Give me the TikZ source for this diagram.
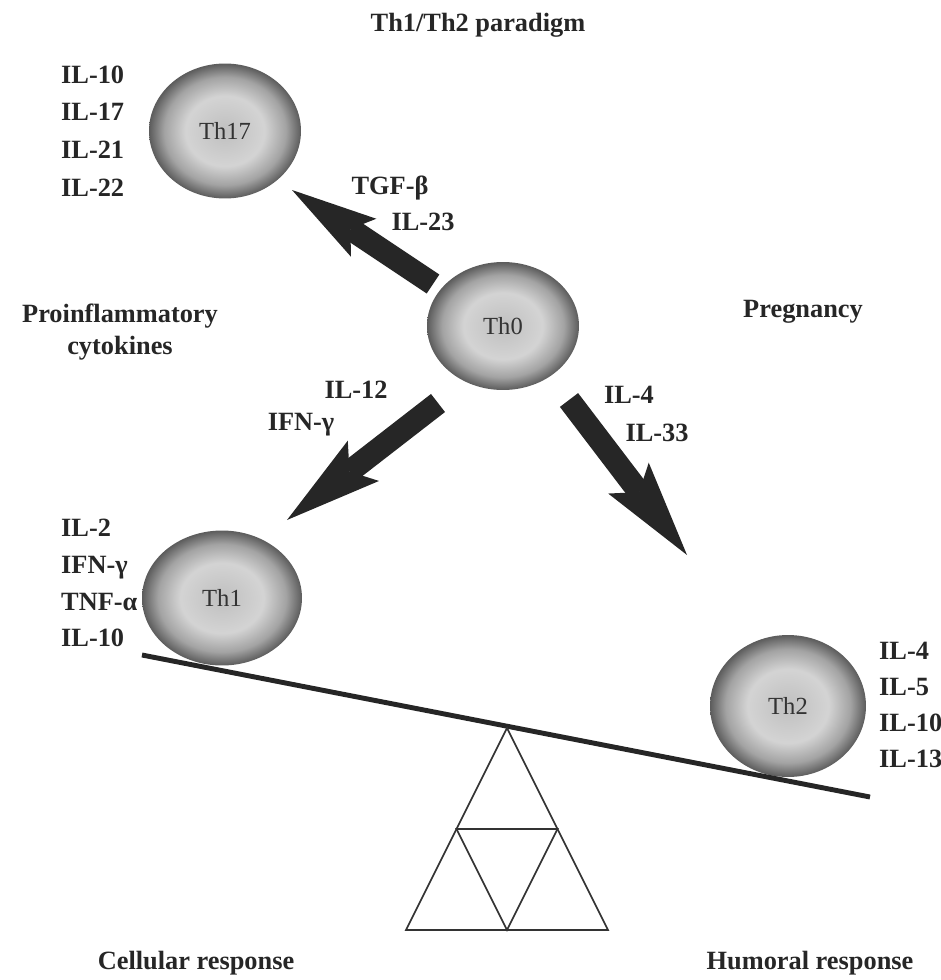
\documentclass[tikz,border=0pt]{standalone}
\usepackage{fontspec}
\setmainfont{Liberation Serif}
\usetikzlibrary{arrows.meta, shapes.geometric}

\pgfdeclareradialshading{cellshade}{\pgfpoint{0bp}{0bp}}{%
  color(0bp)=(black!25); color(13bp)=(black!17); color(20bp)=(black!36);
  color(25bp)=(black!64); color(50bp)=(black!64)}

\begin{document}
\begin{tikzpicture}[
  x=0.02cm, y=-0.02cm,
  cell/.style={ellipse, shade, shading=cellshade, inner sep=0pt,
               minimum width=3.04cm, minimum height=2.7cm,
               font=\fontsize{14}{16}\selectfont, text=black!80},
  lbl/.style={font=\bfseries\fontsize{15}{18}\selectfont, text=black!85},
  cyto/.style={align=left, anchor=west, text=black!85,
               font=\bfseries\fontsize{15}{21.5}\selectfont},
  fat/.style={line width=13pt, black!85,
              -{Stealth[length=55pt, width=29pt, inset=10pt, line width=0pt]}},
  fatsmall/.style={fat, -{Stealth[length=49pt, width=26pt, inset=9pt, line width=0pt]}},
  beam/.style={line width=2.8pt, black!85},
  stand/.style={line width=1pt, black!80, line join=miter}
]
  \useasboundingbox (0,0) rectangle (940,980);

  \node[lbl] (title) at (478,25) {Th1/Th2 paradigm};

  % the four cells
  \node[cell] (th17) at (225,131) {Th17};
  \node[cell, minimum height=2.56cm] (th0) at (503,326) {Th0};
  \node[cell, minimum width=3.2cm] (th1) at (222,598) {Th1};
  \node[cell, minimum width=3.12cm, minimum height=2.84cm] (th2) at (788,706) {Th2};

  % cytokine lists
  \node[cyto] (th17list) at (55,131) {IL-10\\IL-17\\IL-21\\IL-22};
  \node[cyto, font=\bfseries\fontsize{15}{21}\selectfont] (th1list) at (55,583)
    {IL-2\\IFN-γ\\TNF-α\\IL-10};
  \node[cyto, font=\bfseries\fontsize{15}{20.5}\selectfont] (th2list) at (873,705)
    {IL-4\\IL-5\\IL-10\\IL-13};

  % differentiation arrows
  \coordinate (a17s) at (433,284);
  \coordinate (a17e) at (292,190);
  \coordinate (a1s) at (438,403);
  \coordinate (a1e) at (287,520);
  \coordinate (a2s) at (569,400);
  \coordinate (a2e) at (687,555);
  \draw[fatsmall] (a17s) -- (a17e);
  \draw[fat] (a1s) -- (a1e);
  \draw[fat] (a2s) -- (a2e);

  \node[lbl] (tgf) at (390,188) {TGF-β};
  \node[lbl] (il23) at (423,222) {IL-23};
  \node[lbl] (il12) at (356,390) {IL-12};
  \node[lbl] (ifn) at (301,425) {IFN-γ};
  \node[lbl] (il4) at (629,395) {IL-4};
  \node[lbl] (il33) at (657,433) {IL-33};

  \node[lbl, align=center] (proinf) at (120,332) {Proinflammatory\\cytokines};
  \node[lbl] (preg) at (803,312) {Pregnancy};

  % balance
  \coordinate (beamL) at (142,655);
  \coordinate (beamR) at (870,797);
  \draw[beam] (beamL) -- (beamR);

  \coordinate (top) at (507,728);
  \coordinate (bl) at (406,930);
  \coordinate (br) at (608,930);
  \coordinate (ml) at (456.5,829);
  \coordinate (mr) at (557.5,829);
  \coordinate (mb) at (507,930);
  \draw[stand] (top) -- (bl) -- (br) -- cycle;
  \draw[stand] (ml) -- (mr) -- (mb) -- cycle;

  \node[lbl] (cell) at (196,963) {Cellular response};
  \node[lbl] (humo) at (810,963) {Humoral response};
\end{tikzpicture}
\end{document}
